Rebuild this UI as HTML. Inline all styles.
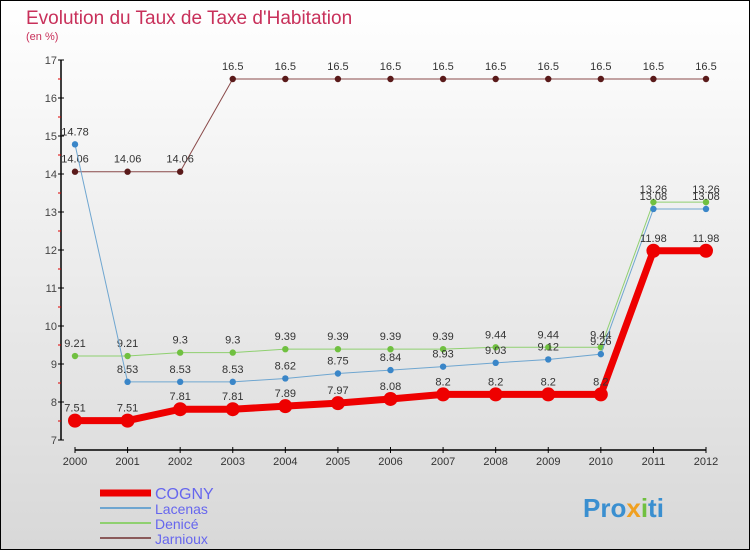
<!DOCTYPE html>
<html><head><meta charset="utf-8"><style>
body{margin:0}
#c{width:750px;height:550px;position:relative;background:linear-gradient(#ffffff,#d8d8d8);box-sizing:border-box;border:1px solid #000;overflow:hidden;font-family:"Liberation Sans",sans-serif}
</style></head><body>
<div id="c">
<svg id="s" width="750" height="550" style="position:absolute;left:-1px;top:-1px">
<text x="26" y="24" font-size="19" fill="#c8305a">Evolution du Taux de Taxe d'Habitation</text>
<text x="26" y="40" font-size="11" fill="#c8305a">(en %)</text>
<g id="ax"></g><g id="ser"></g>
<g>
<line x1="100" y1="493" x2="151" y2="493" stroke="#e00" stroke-width="7"/>
<text x="155" y="499" font-size="16" fill="#6666ee">COGNY</text>
<line x1="100" y1="508" x2="151" y2="508" stroke="#6fa6d0" stroke-width="2"/>
<text x="155" y="514" font-size="14" fill="#6666ee">Lacenas</text>
<line x1="100" y1="523" x2="151" y2="523" stroke="#8fd070" stroke-width="2"/>
<text x="155" y="529" font-size="14" fill="#6666ee">Denicé</text>
<line x1="100" y1="538" x2="151" y2="538" stroke="#8a5a5a" stroke-width="2"/>
<text x="155" y="544" font-size="14" fill="#6666ee">Jarnioux</text>
</g>
<text x="583" y="517" font-size="26" font-weight="bold" fill="#3a8fd0">Pro<tspan fill="#f0a020">x</tspan><tspan fill="#70c040">i</tspan>ti</text>
</svg>
</div>
<script>
const years=[2000,2001,2002,2003,2004,2005,2006,2007,2008,2009,2010,2011,2012];
const yTicks=[7,8,9,10,11,12,13,14,15,16,17];
const cogny=[7.51,7.51,7.81,7.81,7.89,7.97,8.08,8.2,8.2,8.2,8.2,11.98,11.98];
const lacenas=[14.78,8.53,8.53,8.53,8.62,8.75,8.84,8.93,9.03,9.12,9.26,13.08,13.08];
const denice=[9.21,9.21,9.3,9.3,9.39,9.39,9.39,9.39,9.44,9.44,9.44,13.26,13.26];
const jarnioux=[14.06,14.06,14.06,16.5,16.5,16.5,16.5,16.5,16.5,16.5,16.5,16.5,16.5];
const NS="http://www.w3.org/2000/svg";
const X=i=>75+i*(631/12), Y=v=>440-(v-7)*38;
function mk(t,a,p){const e=document.createElementNS(NS,t);for(const k in a)e.setAttribute(k,a[k]);p.appendChild(e);return e;}
const ax=document.getElementById('ax'),ser=document.getElementById('ser');
const ya=mk('line',{x1:61,y1:60,x2:61,y2:440,stroke:'#000','stroke-width':1.5},ax);


yTicks.forEach(v=>{mk('line',{x1:58,x2:64,y1:Y(v),y2:Y(v),stroke:'#000'},ax);
 if(v<17)mk('line',{x1:58,x2:61,y1:Y(v+0.5),y2:Y(v+0.5),stroke:'#d00'},ax);
 const t=mk('text',{x:57,y:Y(v)+4,'font-size':11,fill:'#444','text-anchor':'end'},ax);t.textContent=v;
 
 });
const xa=mk('line',{x1:75,y1:450,x2:706,y2:450,stroke:'#000','stroke-width':1.5},ax);


years.forEach((y,i)=>{mk('line',{x1:X(i),x2:X(i),y1:447,y2:453,stroke:'#000'},ax);
 const t=mk('text',{x:X(i),y:465,'font-size':11,fill:'#333','text-anchor':'middle'},ax);t.textContent=y;
 
 });
function series(name,vals,col,dot,w,r,lblcol){
 const g=mk('g',{},ser);
 
 
 mk('polyline',{points:vals.map((v,i)=>X(i)+','+Y(v)).join(' '),fill:'none',stroke:col,'stroke-width':w},g);
 vals.forEach((v,i)=>{const c=mk('circle',{cx:X(i),cy:Y(v),r:r,fill:dot},g);
  
  
  const t=mk('text',{x:X(i),y:Y(v)-9,'font-size':11,fill:'#333','text-anchor':'middle'},g);t.textContent=v;});
}
series('jarnioux',jarnioux,'#8a4a4a','#5a1a1a',1,3.2);
series('denice',denice,'#8fd070','#70c040',1,3.2);
series('lacenas',lacenas,'#6fa6d0','#3a86c8',1,3.2);
series('cogny',cogny,'#ee0000','#ee0000',7,7);
</script>
</body></html>
